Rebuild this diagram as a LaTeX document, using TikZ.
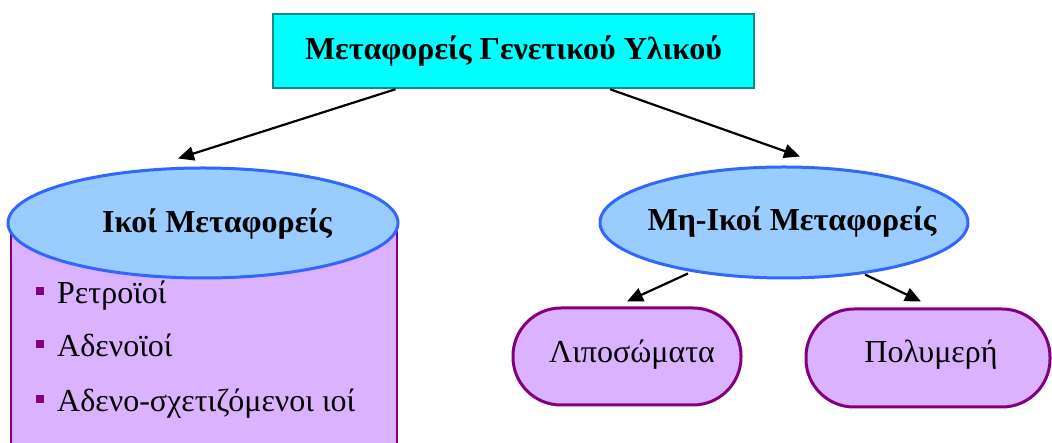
\documentclass[tikz,border=0pt]{standalone}
\usepackage{fontspec}
\setmainfont{Liberation Serif}
\usetikzlibrary{arrows.meta,shapes.geometric,calc}
\definecolor{cyanfill}{HTML}{00FFFF}
\definecolor{tealline}{HTML}{138A8A}
\definecolor{ellfill}{HTML}{99CCFF}
\definecolor{ellline}{HTML}{3366FF}
\definecolor{purfill}{HTML}{DAB2FF}
\definecolor{purline}{HTML}{800080}
\tikzset{
  txt/.style={font=\fontsize{32}{36}\selectfont, inner sep=0pt},
  btxt/.style={font=\fontsize{32}{36}\selectfont\bfseries, inner sep=0pt},
  ellbox/.style={ellipse, draw=ellline, fill=ellfill, line width=3pt, inner sep=0pt},
  pill/.style={rectangle, rounded corners=48pt, draw=purline, fill=purfill, line width=3pt, inner sep=0pt},
  conn/.style={line width=2.2pt, -{Triangle[length=16pt,width=14pt]}},
  bul/.style={rectangle, fill=purline, minimum size=8pt, inner sep=0pt}
}
\begin{document}
\begin{tikzpicture}[x=1pt,y=1pt]
\useasboundingbox (0,0) rectangle (1052,443);
% top box
\node[rectangle, draw=tealline, fill=cyanfill, line width=2.5pt, minimum width=481pt, minimum height=74pt, btxt] (top) at (513.5,392) {Μεταφορείς Γενετικού Υλικού};
% cylinder body
\fill[purfill] (11,-2) rectangle (397,220);
\draw[purline, line width=2.5pt] (11,220) -- (11,-2) (397,220) -- (397,-2);
\node[ellbox, minimum width=390pt, minimum height=110pt] (ikoi) at (203,220) {};
\node[btxt] (ikoitxt) at (217,219) {Ικοί Μεταφορείς};
% right ellipse
\node[ellbox, minimum width=368pt, minimum height=111pt] (mi) at (784,220.5) {};
\node[btxt] (mitxt) at (792,221) {Μη-Ικοί Μεταφορείς};
% pills
\node[pill, minimum width=228pt, minimum height=97pt] (lipo) at (627,86.5) {};
\node[txt] (lipotxt) at (632,88) {Λιποσώματα};
\node[pill, minimum width=244pt, minimum height=98pt] (poly) at (928,85) {};
\node[txt] (polytxt) at (931,88) {Πολυμερή};
% bullets
\node[txt, anchor=base west] (b1) at (57,139) {Ρετροϊοί};
\node[txt, anchor=base west] (b2) at (57,86) {Αδενοϊοί};
\node[txt, anchor=base west] (b3) at (57,31) {Αδενο-σχετιζόμενοι ιοί};
\node[bul] (q1) at (40,151.5) {};
\node[bul] (q2) at (40,98.5) {};
\node[bul] (q3) at (40,43.5) {};
% connectors
\draw[conn] ([xshift=-118pt]top.south) -- ([xshift=-25pt,yshift=8pt]ikoi.north);
\draw[conn] ([xshift=96.5pt]top.south) -- ([xshift=16pt,yshift=9pt]mi.north);
\draw[conn] ([xshift=-96pt,yshift=6pt]mi.south) -- ([yshift=5pt]lipo.north);
\draw[conn] ([xshift=81pt,yshift=5pt]mi.south) -- ([xshift=-7pt,yshift=6pt]poly.north);
\end{tikzpicture}
\end{document}
